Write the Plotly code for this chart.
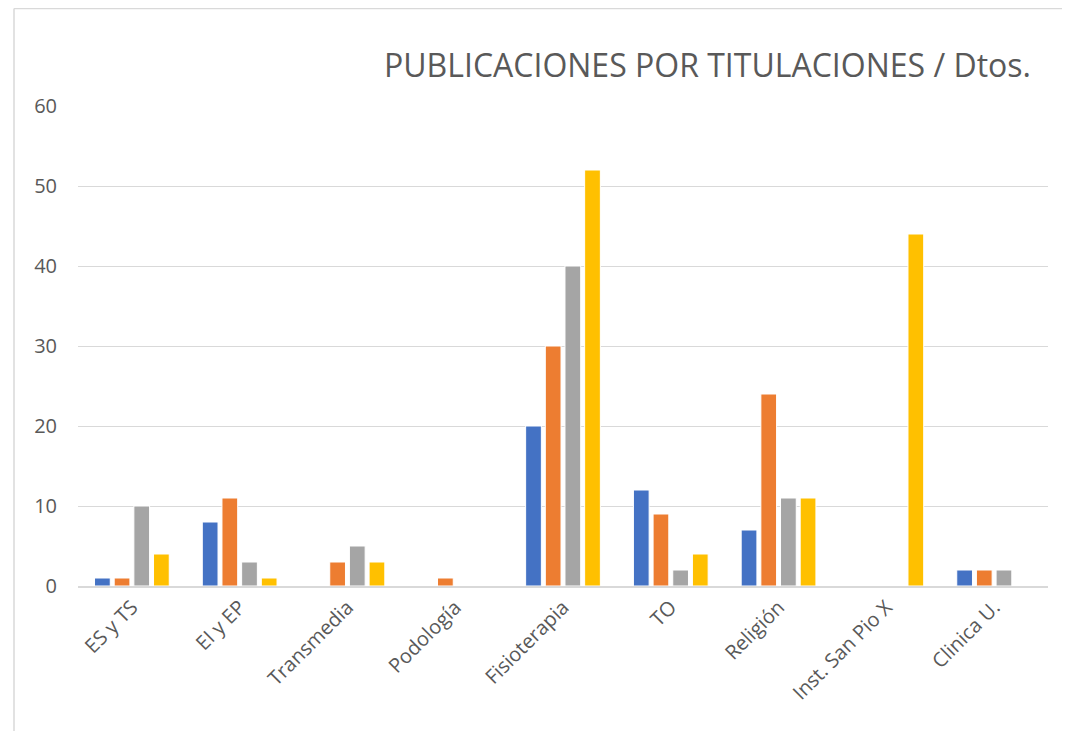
import plotly.graph_objects as go

categories = ["ES y TS", "EI y EP", "Transmedia", "Podología", "Fisioterapia",
              "TO", "Religión", "Inst. San Pio X", "Clinica U."]
series_1 = [1, 8, 0, 0, 20, 12, 7, 0, 2]
series_2 = [1, 11, 3, 1, 30, 9, 24, 0, 2]
series_3 = [10, 3, 5, 0, 40, 2, 11, 0, 2]
series_4 = [4, 1, 3, 0, 52, 4, 11, 44, 0]
series_names = ["Serie 1", "Serie 2", "Serie 3", "Serie 4"]
colors = ["#4472C4", "#ED7D31", "#A5A5A5", "#FFC000"]
y_ticks = [0, 10, 20, 30, 40, 50, 60]

# page has an 8px body margin; figure is placed at (8, 8)
OFF = 8
W, H = 1070 - OFF, 731 - OFF
L, R, T, B = 78 - OFF, 22, 106 - OFF, 145
pw, ph = W - L - R, H - T - B


def px_x(x):  # page pixel -> paper
    return (x - OFF - L) / pw


def px_y(y):
    return (H - B - (y - OFF)) / ph


fig = go.Figure()
for name, vals, col in zip(series_names, [series_1, series_2, series_3, series_4], colors):
    fig.add_trace(go.Bar(
        x=categories, y=vals, name=name,
        marker=dict(color=col, line=dict(color="white", width=1)),
    ))

font_family = "Open Sans, Noto Sans, sans-serif"
fig.update_layout(
    width=W, height=H,
    margin=dict(l=L, r=R, t=T, b=B),
    paper_bgcolor="white", plot_bgcolor="white",
    barmode="group", bargap=0.27, bargroupgap=0.2,
    showlegend=False,
    font=dict(family=font_family, color="#595959"),
    xaxis=dict(
        tickangle=-45, tickfont=dict(size=20, color="#595959"),
        showgrid=False, showline=True, linecolor="#D9D9D9", linewidth=1.5,
        ticks="", range=[-0.5, 8.5], automargin=False,
    ),
    yaxis=dict(
        range=[0, 60], tickvals=y_ticks, tickfont=dict(size=20, color="#595959"),
        showgrid=True, gridcolor="#D9D9D9", gridwidth=1.2,
        zeroline=False, showline=False, ticks="", ticklabelstandoff=20,
        automargin=False,
    ),
    shapes=[
        dict(type="line", xref="paper", yref="paper",
             x0=px_x(14), x1=px_x(1080), y0=px_y(8.5), y1=px_y(8.5),
             line=dict(color="#D9D9D9", width=1.5)),
        dict(type="line", xref="paper", yref="paper",
             x0=px_x(14), x1=px_x(14), y0=px_y(8.5), y1=px_y(745),
             line=dict(color="#D9D9D9", width=1.5)),
    ],
    annotations=[
        dict(text="PUBLICACIONES POR TITULACIONES / Dtos.",
             xref="paper", yref="paper", x=px_x(1033), y=px_y(65),
             xanchor="right", yanchor="middle", showarrow=False,
             font=dict(size=32, color="#595959", family=font_family)),
    ],
)

fig.write_html("out.html")
